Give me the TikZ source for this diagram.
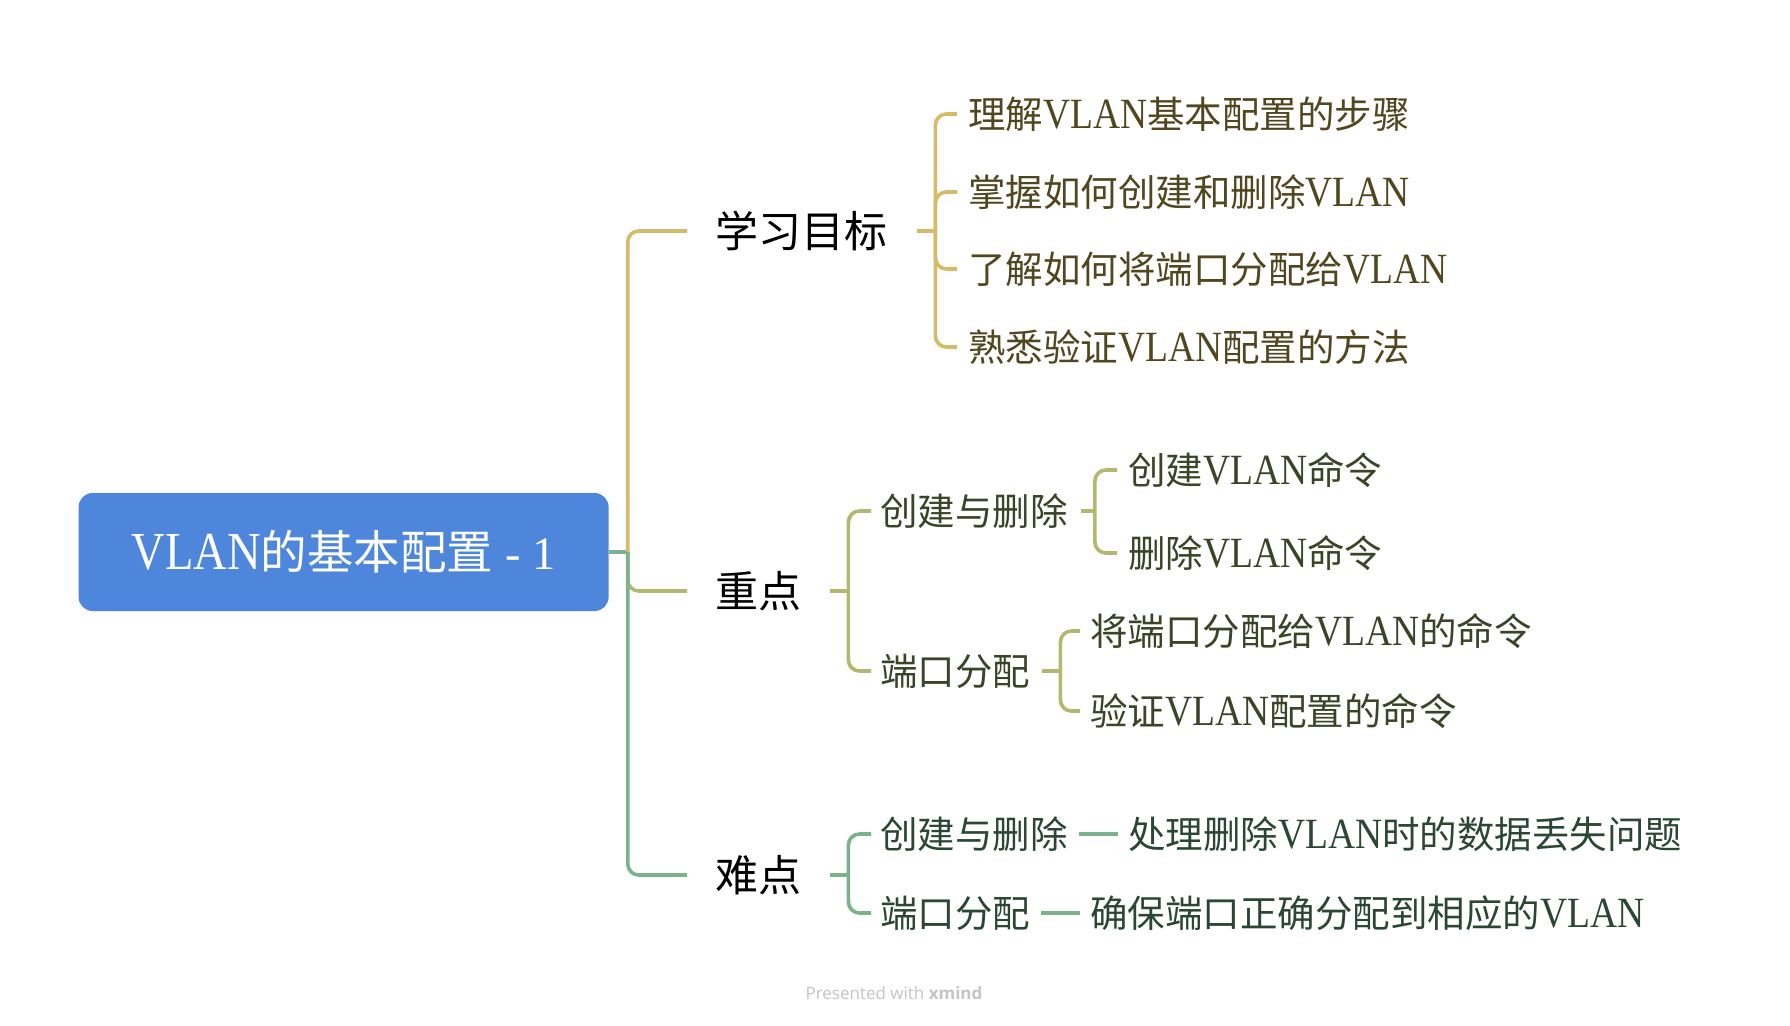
\documentclass[tikz,border=0pt]{standalone}
\usepackage{fontspec}
\usepackage{graphicx}
\setmainfont{Liberation Serif}
\newfontfamily\cjk{Noto Sans CJK SC}
\newfontfamily\footfont{Open Sans}
\newcommand\zh[1]{{\cjk #1}}
\newcommand\vl{\scalebox{1}[1.15]{VLAN}}
\definecolor{rootblue}{HTML}{4E86DB}
\definecolor{ybr}{HTML}{D5BB68}
\definecolor{ytx}{HTML}{51461E}
\definecolor{obr}{HTML}{B3B86F}
\definecolor{otx}{HTML}{3C4427}
\definecolor{gbr}{HTML}{79B28B}
\definecolor{gtx}{HTML}{2A4733}
\definecolor{foot}{HTML}{C4C4C4}
\begin{document}
\begin{tikzpicture}[x=1pt,y=-1pt,
  lab/.style={anchor=west,inner sep=0pt},
  lone/.style={lab,font=\fontsize{43}{48}\selectfont,text=black,text height=37.8pt,text depth=5.2pt},
  ltwo/.style={lab,font=\fontsize{37.5}{42}\selectfont,text height=33pt,text depth=4.5pt},
  conn/.style={line width=3.6pt,rounded corners=11pt}]
\useasboundingbox (0,0) rectangle (1790,1025);
\fill[white] (0,0) rectangle (1790,1025);

% root
\node[fill=rootblue,rounded corners=14pt,minimum width=530pt,minimum height=118pt,
      text=white,font=\fontsize{46.5}{50}\selectfont,inner sep=0pt,
      text height=40.9pt,text depth=5.6pt] (root) at (343.6,552) {\vl\zh{的基本配置} - 1};

% level 1
\node[lone] (goal) at (715,231) {\zh{学习目标}};
\node[lone] (key) at (715,591) {\zh{重点}};
\node[lone] (diff) at (715,875) {\zh{难点}};

% goal children
\node[ltwo,text=ytx] (g1) at (968,114) {\zh{理解}\vl\zh{基本配置的步骤}};
\node[ltwo,text=ytx] (g2) at (968,192) {\zh{掌握如何创建和删除}\vl};
\node[ltwo,text=ytx] (g3) at (968,269) {\zh{了解如何将端口分配给}\vl};
\node[ltwo,text=ytx] (g4) at (968,347) {\zh{熟悉验证}\vl\zh{配置的方法}};

% key children
\node[ltwo,text=otx] (k1) at (880,511) {\zh{创建与删除}};
\node[ltwo,text=otx] (k2) at (880,671) {\zh{端口分配}};
\node[ltwo,text=otx] (k11) at (1128,470) {\zh{创建}\vl\zh{命令}};
\node[ltwo,text=otx] (k12) at (1128,553) {\zh{删除}\vl\zh{命令}};
\node[ltwo,text=otx] (k21) at (1090,631) {\zh{将端口分配给}\vl\zh{的命令}};
\node[ltwo,text=otx] (k22) at (1090,711) {\zh{验证}\vl\zh{配置的命令}};

% diff children
\node[ltwo,text=gtx] (d1) at (880,834) {\zh{创建与删除}};
\node[ltwo,text=gtx] (d2) at (880,913) {\zh{端口分配}};
\node[ltwo,text=gtx] (d11) at (1128,834) {\zh{处理删除}\vl\zh{时的数据丢失问题}};
\node[ltwo,text=gtx] (d21) at (1090,913) {\zh{确保端口正确分配到相应的}\vl};

% root connectors
\coordinate (rj) at ([xshift=19pt]root.east);
\draw[conn,gbr] (root.east) -- (rj);
\draw[conn,ybr] (rj) |- ([xshift=-28pt]goal.west);
\draw[conn,obr] (rj) |- ([xshift=-28pt]key.west);
\draw[conn,gbr] (rj) |- ([xshift=-28pt]diff.west);

% goal connectors
\coordinate (gj) at ([xshift=48pt]goal.east);
\draw[conn,ybr] ([xshift=30pt]goal.east) -- (gj);
\foreach \c in {g1,g2,g3,g4}
  \draw[conn,ybr] (gj) |- ([xshift=-11pt]\c.west);

% key connectors
\coordinate (kj) at ([xshift=47pt]key.east);
\draw[conn,obr] ([xshift=29pt]key.east) -- (kj);
\foreach \c in {k1,k2}
  \draw[conn,obr] (kj) |- ([xshift=-9pt]\c.west);
\coordinate (k1j) at ([xshift=27pt]k1.east);
\draw[conn,obr] ([xshift=13pt]k1.east) -- (k1j);
\foreach \c in {k11,k12}
  \draw[conn,obr] (k1j) |- ([xshift=-11pt]\c.west);
\coordinate (k2j) at ([xshift=30pt]k2.east);
\draw[conn,obr] ([xshift=12pt]k2.east) -- (k2j);
\foreach \c in {k21,k22}
  \draw[conn,obr] (k2j) |- ([xshift=-10pt]\c.west);

% diff connectors
\coordinate (dj) at ([xshift=47pt]diff.east);
\draw[conn,gbr] ([xshift=29pt]diff.east) -- (dj);
\foreach \c in {d1,d2}
  \draw[conn,gbr] (dj) |- ([xshift=-9pt]\c.west);
\draw[conn,gbr] ([xshift=11pt]d1.east) -- ([xshift=-10pt]d11.west);
\draw[conn,gbr] ([xshift=11pt]d2.east) -- ([xshift=-10pt]d21.west);

% footer
\node[text=foot,font=\footfont\fontsize{17}{20}\selectfont,inner sep=0pt] (footer) at (894,993) {Presented with \textbf{xmind}};
\end{tikzpicture}
\end{document}
